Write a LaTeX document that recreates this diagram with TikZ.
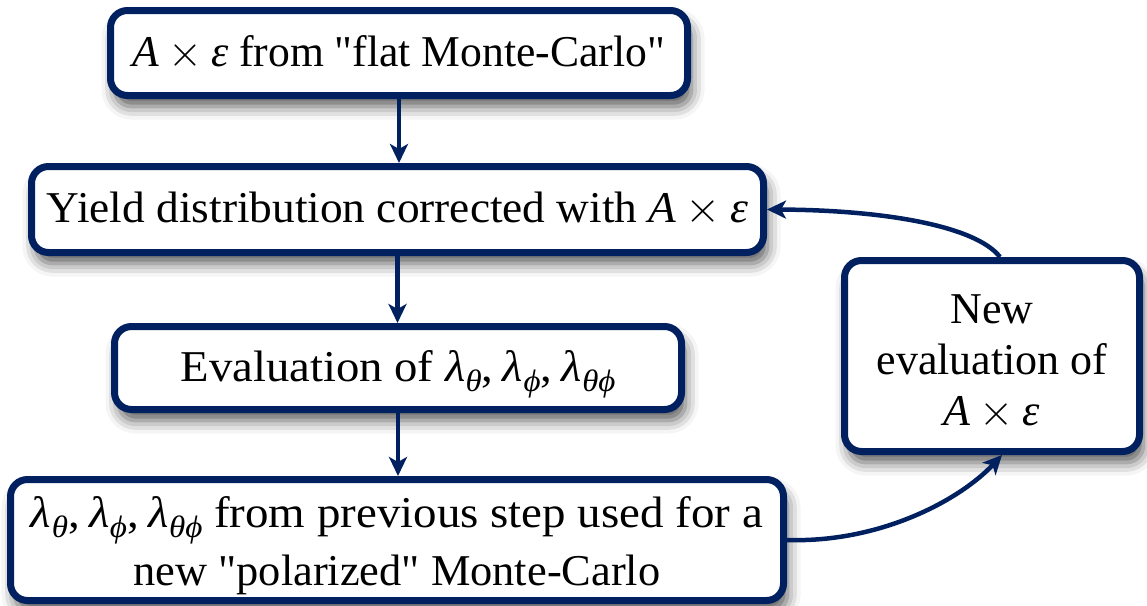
\RequirePackage{fix-cm}
\documentclass[tikz,border=0pt]{standalone}
\usepackage{fontspec}
\usepackage{graphicx}
\setmainfont{Liberation Serif}[Ligatures=TeXOff]
\usetikzlibrary{arrows.meta,shadows.blur}
\definecolor{navy}{HTML}{002060}
% a line of text stretched or squeezed to a given width
\newcommand\fitto[2]{\resizebox{#1}{\height}{#2}}
% an invisible strut that makes a first line taller
\newcommand\tall[1]{\rule{0pt}{#1}}
% A x epsilon, set in italics
\newcommand\AxE{\textit{A}\hspace{0.2em}$\times$\hspace{0.2em}\textit{ε}}
% lambda with an italic subscript
\newcommand\lsub[1]{\textit{λ}\kern0.01em\raisebox{-0.22em}{\fontsize{31}{31}\selectfont\itshape #1}}
\newcommand\lams{\lsub{θ},\hspace{0.2em}\lsub{ϕ},\hspace{0.2em}\lsub{θϕ}}
\begin{document}
\begin{tikzpicture}[x=1pt,y=-1pt,
  box/.style={draw=navy, line width=7pt, rounded corners=17pt, fill=white,
    align=center, inner sep=0pt, font=\fontsize{44}{51}\selectfont,
    blur shadow={shadow xshift=4pt, shadow yshift=-11pt,
      shadow blur radius=13pt, shadow opacity=65}},
  link/.style={draw=navy, line width=4.5pt,
    -{Stealth[length=19pt,width=18pt,inset=5pt]}}]
\useasboundingbox (0,0) rectangle (1147,605);

\node[box, minimum width=577pt, minimum height=85pt] (n1) at (399,53)
  {\fitto{532pt}{\AxE{} from "flat Monte-Carlo"}};
\node[box, minimum width=732pt, minimum height=86pt] (n2) at (397.5,209.5)
  {\fitto{701pt}{Yield distribution corrected with \AxE}};
\node[box, minimum width=567pt, minimum height=83pt] (n3) at (398,368)
  {\tall{44pt}\fitto{435pt}{Evaluation of \lams}};
\node[box, minimum width=773pt, minimum height=121pt,
      font=\fontsize{44}{58}\selectfont] (n4) at (397,540)
  {\tall{42pt}\fitto{732pt}{\lams{} from previous step used for a}\\
   \fitto{527pt}{new "polarized" Monte-Carlo}};
\node[box, minimum width=295pt, minimum height=191pt] (n5) at (992,356)
  {\tall{41pt}New\\ evaluation of\\ \AxE};

% ends of the feedback arrows on the side box
\coordinate (n5top) at ([xshift=8pt]n5.north);
\coordinate (n5bot) at ([xshift=10pt]n5.south);

% main chain
\draw[link] (n1.south) -- (n1.south |- n2.north);
\draw[link] (n2.south) -- (n2.south |- n3.north);
\draw[link] (n3.south) -- (n3.south |- n4.north);

% feedback loop
\draw[link] (n4.east) .. controls (880,543) and (960,500) .. (n5bot);
\draw[link] (n5top) .. controls (975,225) and (880,210) .. (n2.east);
\end{tikzpicture}
\end{document}
